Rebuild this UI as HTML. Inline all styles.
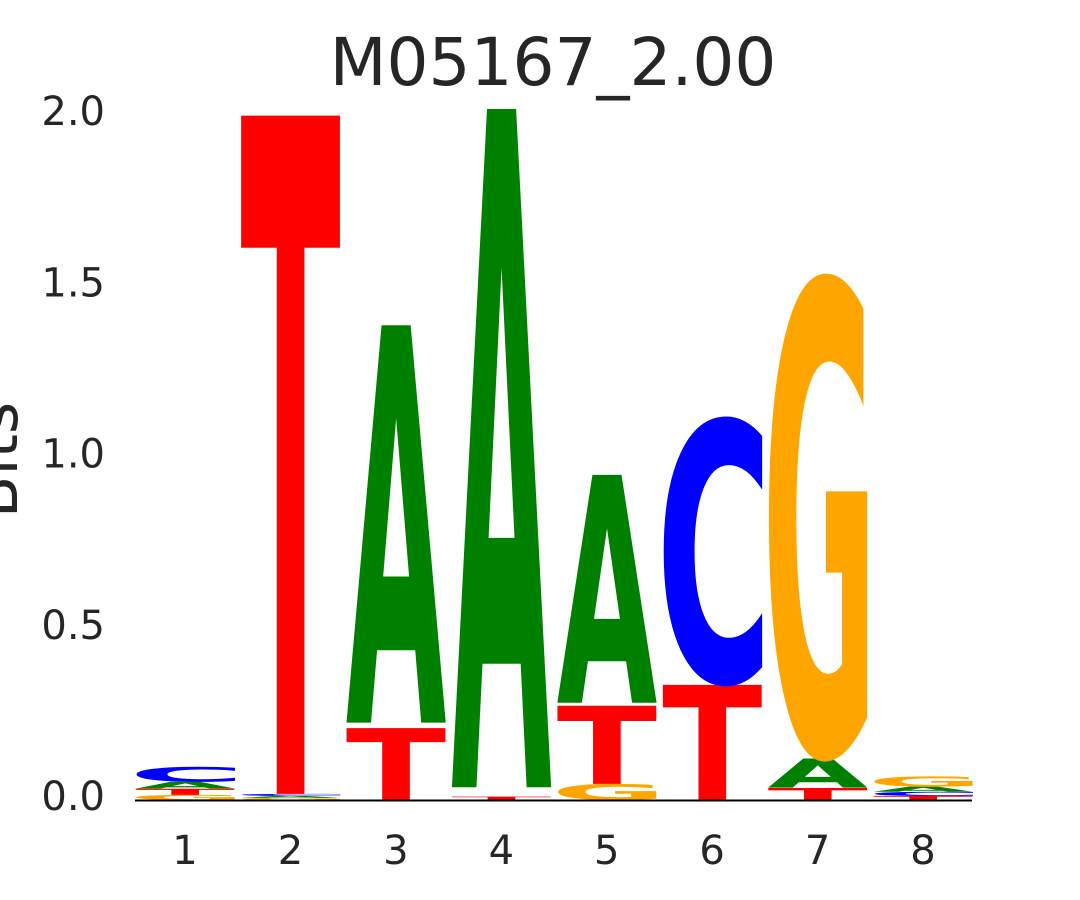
<!DOCTYPE html>
<html><head><meta charset="utf-8">
<style>
html,body{margin:0;padding:0;background:#fff;width:1080px;height:900px;overflow:hidden;}
svg{display:block;}
text{font-family:"DejaVu Sans","Liberation Sans",sans-serif;}
</style></head>
<body>
<svg id="chart" width="1080" height="900" xmlns="http://www.w3.org/2000/svg">
  <text x="553" y="85" font-size="66" fill="#262626" text-anchor="middle">M05167_2.00</text>
  <text transform="translate(17,460) rotate(-90)" font-size="62" fill="#262626" text-anchor="middle">Bits</text>
  <g id="letters"></g>
  <line x1="135" y1="800.5" x2="972" y2="800.5" stroke="#000" stroke-width="2"/>
  <g id="yticks"></g>
  <g id="xticks"></g>
</svg>
<script>
const positions = ["1","2","3","4","5","6","7","8"];
// each stack bottom -> top: [letter, bits]
const stack1 = [["G",0.015],["T",0.018],["A",0.02],["C",0.044]];
const stack2 = [["G",0.006],["A",0.006],["C",0.006],["T",1.98]];
const stack3 = [["T",0.21],["A",1.16]];
const stack4 = [["T",0.01],["A",1.98]];
const stack5 = [["G",0.047],["T",0.228],["A",0.665]];
const stack6 = [["T",0.336],["C",0.78]];
const stack7 = [["T",0.035],["A",0.085],["G",1.41]];
const stack8 = [["T",0.012],["C",0.012],["A",0.015],["G",0.03]];
const stacks = [stack1,stack2,stack3,stack4,stack5,stack6,stack7,stack8];
const yTicks = [0,0.5,1.0,1.5,2.0];
const yTickLabels = ["0.0","0.5","1.0","1.5","2.0"];

const colors = {A:"#008000",C:"#0000ff",G:"#ffa500",T:"#ff0000"};
const NS = "http://www.w3.org/2000/svg";
const y0 = 800, pxPerBit = 342.5;
const yScale = v => y0 - v * pxPerBit;
const xScale = i => 185 + i * 105.43;
const colW = 100;

const ctx = document.createElement('canvas').getContext('2d');
ctx.font = 'bold 100px "DejaVu Sans", "Liberation Sans", sans-serif';
const lg = document.getElementById('letters');
stacks.forEach((st, i) => {
  let base = 0;
  st.forEach(([L, h]) => {
    const t = document.createElementNS(NS, 'text');
    
    
    t.textContent = L;
    t.setAttribute('font-size', '100');
    t.setAttribute('font-weight', 'bold');
    t.setAttribute('fill', colors[L]);
    t.setAttribute('x', 0); t.setAttribute('y', 0);
    lg.appendChild(t);
    const m = ctx.measureText(L);
    const inkX = -m.actualBoundingBoxLeft, inkW = m.actualBoundingBoxLeft + m.actualBoundingBoxRight;
    const inkH = (m.actualBoundingBoxAscent + m.actualBoundingBoxDescent) * 0.985;
    const top = yScale(base + h), bot = yScale(base);
    const hh = Math.max(bot - top, 0.01);
    const sx = colW / inkW, sy = hh / inkH;
    const left = xScale(i) - colW / 2;
    t.setAttribute('transform', `translate(${left - inkX * sx},${bot - m.actualBoundingBoxDescent * sy}) scale(${sx},${sy})`);
    base += h;
  });
});

const yg = document.getElementById('yticks');
yTicks.forEach((v, k) => {
  const t = document.createElementNS(NS, 'text');
  
  
  t.setAttribute('x', 105); t.setAttribute('y', yScale(v) + 10);
  t.setAttribute('font-size', '40'); t.setAttribute('fill', '#262626');
  t.setAttribute('text-anchor', 'end');
  t.textContent = yTickLabels[k];
  yg.appendChild(t);
});
const xg = document.getElementById('xticks');
positions.forEach((p, i) => {
  const t = document.createElementNS(NS, 'text');
  
  
  t.setAttribute('x', xScale(i)); t.setAttribute('y', 864);
  t.setAttribute('font-size', '40'); t.setAttribute('fill', '#262626');
  t.setAttribute('text-anchor', 'middle');
  t.textContent = p;
  xg.appendChild(t);
});
</script>
</body></html>
